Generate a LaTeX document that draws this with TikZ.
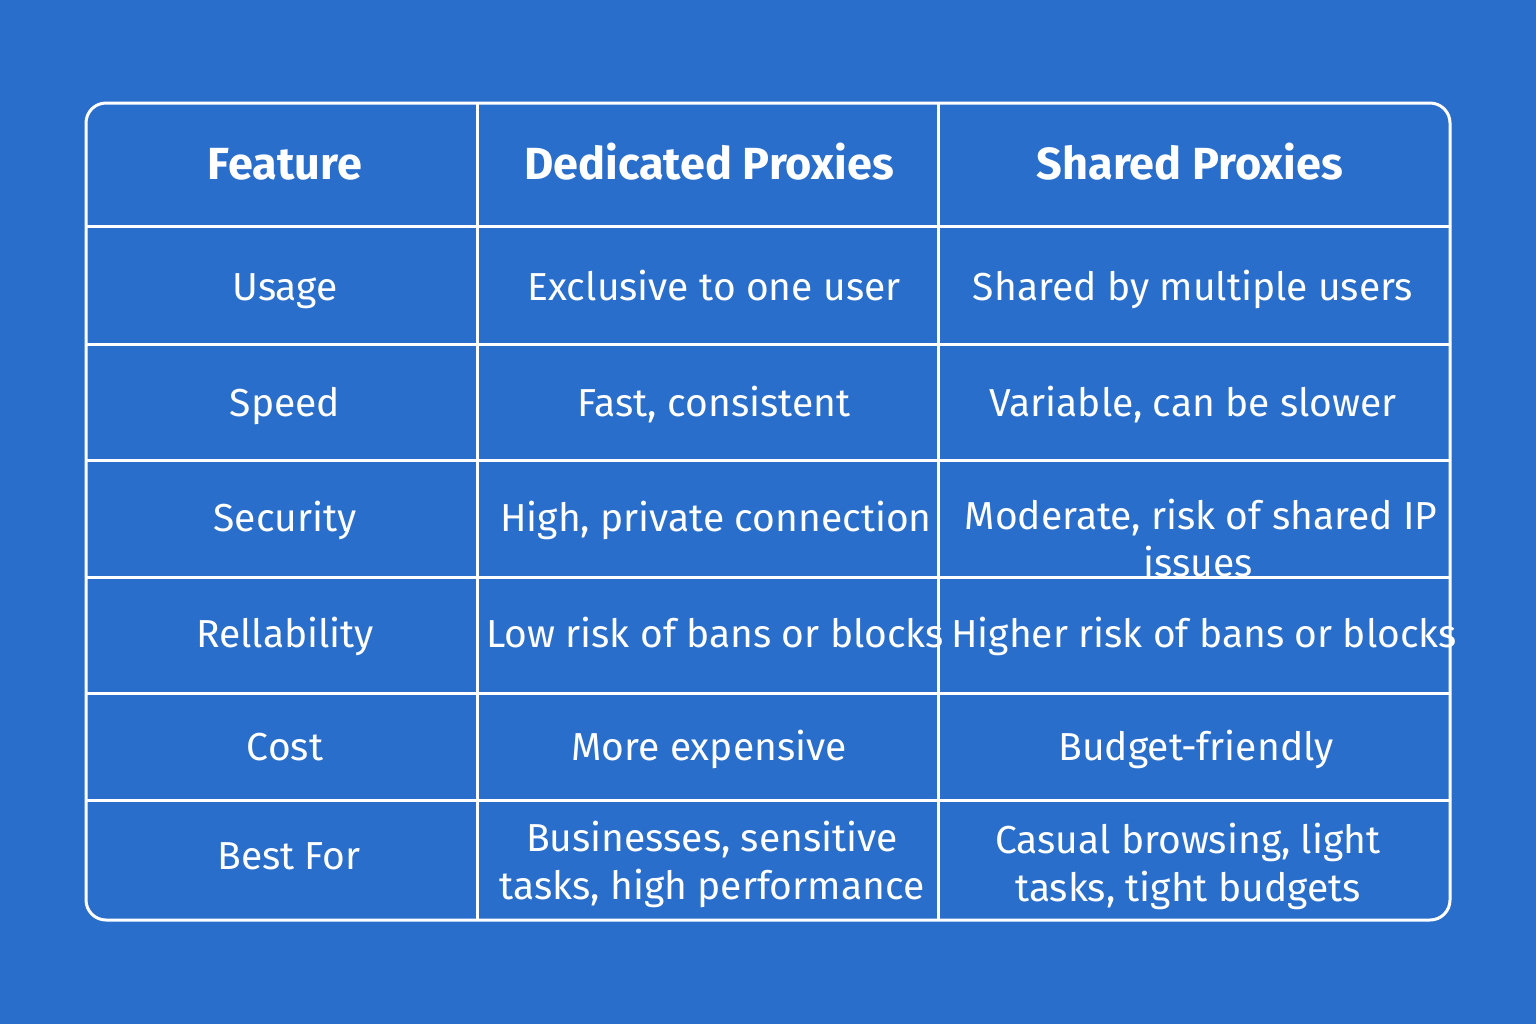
\documentclass[tikz,border=0pt]{standalone}
\usepackage{fontspec}
\setmainfont{Fira Sans}
\definecolor{bg}{HTML}{2A6ECC}
\begin{document}
\begin{tikzpicture}[x=0.5pt,y=-0.5pt,
  cell/.style={text=white,font=\fontsize{19.5}{24}\selectfont,align=center,inner sep=0,text height=1.45ex,text depth=0.3ex,yshift=-3.5pt},
  cell2/.style={text=white,font=\fontsize{19.5}{24}\selectfont,align=center,inner sep=0},
  head/.style={text=white,font=\fontsize{22.5}{26}\selectfont\bfseries,align=center,inner sep=0,text height=1.45ex,text depth=0.3ex,yshift=-3.5pt},
  grid/.style={white,line width=1.5pt}]
\fill[bg] (0,0) rectangle (1536,1024);
\node[head] (h1) at (285,166) {Feature};
\node[head] (h2) at (709,166) {Dedicated Proxies};
\node[head] (h3) at (1190,166) {Shared Proxies};
\node[cell] (a1) at (285,287) {Usage};
\node[cell] (a2) at (714,287) {Exclusive to one user};
\node[cell] (a3) at (1193,287) {Shared by multiple users};
\node[cell] (b1) at (285,403) {Speed};
\node[cell] (b2) at (714,403) {Fast, consistent};
\node[cell] (b3) at (1193,403) {Variable, can be slower};
\node[cell] (c1) at (285,518) {Security};
\node[cell] (c2) at (716,518) {High, private connection};
\node[cell] (c3) at (1201,516) {Moderate, risk of shared IP};
\node[cell] (c4) at (1198,563) {issues};
\node[cell] (d1) at (285,634) {Rellability};
\node[cell] (d2) at (715,634) {Low risk of bans or blocks};
\node[cell] (d3) at (1204,634) {Higher risk of bans or blocks};
\node[cell] (e1) at (285,747) {Cost};
\node[cell] (e2) at (709,747) {More expensive};
\node[cell] (e3) at (1196,747) {Budget-friendly};
\node[cell] (f1) at (289,856) {Best For};
\node[cell2] (f2) at (712,864) {Businesses, sensitive\\tasks, high performance};
\node[cell2] (f3) at (1188,866) {Casual browsing, light\\tasks, tight budgets};
\draw[grid,rounded corners=10pt] (86,103) rectangle (1450,920);
\foreach \x in {477,938} \draw[grid] (\x,103) -- (\x,920);
\foreach \y in {226,344,460,577,693,800} \draw[grid] (86,\y) -- (1450,\y);
\end{tikzpicture}
\end{document}
